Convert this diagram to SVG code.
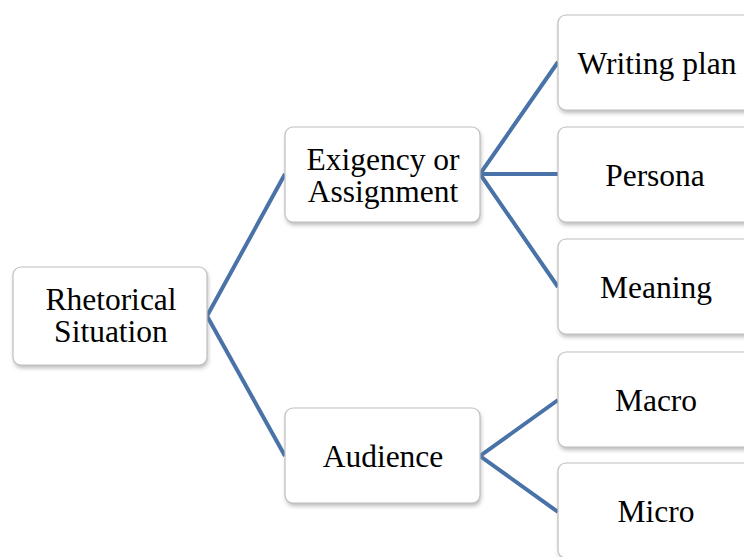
<svg xmlns="http://www.w3.org/2000/svg" width="744" height="557" viewBox="0 0 744 557">
<style>
.box{fill:#fff;stroke:#c0c0c0;stroke-width:1.2}
.sh{fill:#8a8a8a;opacity:.6;filter:url(#blur)}
.t{font-family:"Liberation Serif","Times New Roman",serif;font-size:31.5px;fill:#000;text-anchor:middle}
.c{stroke:#4872a8;stroke-width:4;fill:none;stroke-linecap:butt}
</style>
<defs><filter id="blur" x="-10%" y="-10%" width="120%" height="130%"><feGaussianBlur stdDeviation="2"/></filter></defs>
<rect width="744" height="557" fill="#fff"/>
<g id="connectors">
<polyline class="c" points="285,174 207,316 285,456"/>
<polyline class="c" points="558,62 480,174 558,287"/>
<line class="c" x1="480" y1="174" x2="558" y2="174"/>
<polyline class="c" points="558,400 480,456 558,512"/>
</g>
<g id="rhetorical">
<rect class="sh" x="14" y="270" width="194" height="98" rx="8"/>
<rect class="box" x="13" y="267" width="194" height="98" rx="8"/>
<text class="t" x="111" y="310">Rhetorical</text>
<text class="t" x="111" y="342">Situation</text>
</g>
<g id="exigency">
<rect class="sh" x="286" y="130" width="195" height="95" rx="8"/>
<rect class="box" x="285" y="127" width="195" height="95" rx="8"/>
<text class="t" x="383" y="170">Exigency or</text>
<text class="t" x="383" y="202">Assignment</text>
</g>
<g id="audience">
<rect class="sh" x="286" y="411" width="195" height="95" rx="8"/>
<rect class="box" x="285" y="408" width="195" height="95" rx="8"/>
<text class="t" x="383" y="467">Audience</text>
</g>
<g id="writing">
<rect class="sh" x="559" y="18" width="200" height="95" rx="8"/>
<rect class="box" x="558" y="15" width="200" height="95" rx="8"/>
<text class="t" x="657" y="74">Writing plan</text>
</g>
<g id="persona">
<rect class="sh" x="559" y="130" width="200" height="95" rx="8"/>
<rect class="box" x="558" y="127" width="200" height="95" rx="8"/>
<text class="t" x="655" y="186">Persona</text>
</g>
<g id="meaning">
<rect class="sh" x="559" y="242" width="200" height="95" rx="8"/>
<rect class="box" x="558" y="239" width="200" height="95" rx="8"/>
<text class="t" x="656" y="298">Meaning</text>
</g>
<g id="macro">
<rect class="sh" x="559" y="355" width="200" height="95" rx="8"/>
<rect class="box" x="558" y="352" width="200" height="95" rx="8"/>
<text class="t" x="656" y="411">Macro</text>
</g>
<g id="micro">
<rect class="sh" x="559" y="466" width="200" height="95" rx="8"/>
<rect class="box" x="558" y="463" width="200" height="95" rx="8"/>
<text class="t" x="656" y="522">Micro</text>
</g>
</svg>
